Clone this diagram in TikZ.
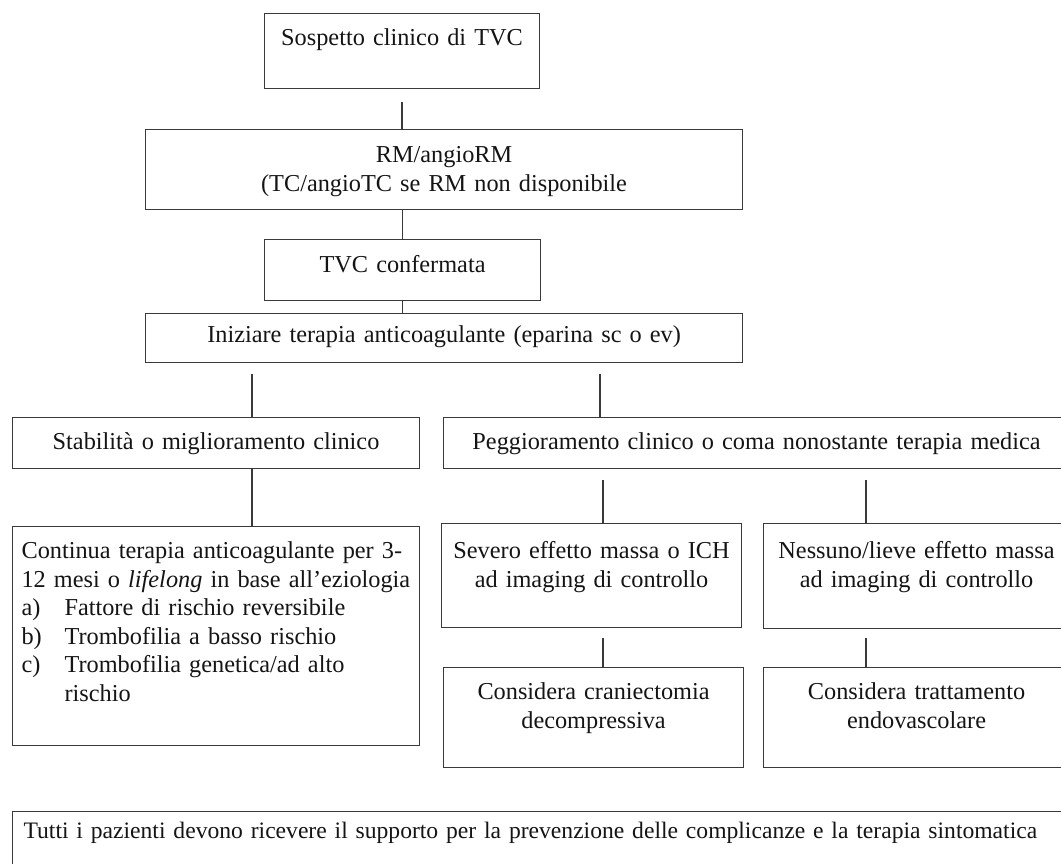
\documentclass[tikz,border=0pt]{standalone}
\usepackage{fontspec}
\setmainfont{Liberation Serif}
\definecolor{linec}{HTML}{3A3A3A}
\definecolor{textc}{HTML}{141414}
\tikzset{
  box/.style={draw=linec, line width=1.1pt, inner sep=0pt, anchor=north west,
    align=center, text=textc, font=\fontsize{24.3}{28.5}\selectfont},
  lbox/.style={box, align=left},
  conn/.style={draw=linec, line width=1.1pt}
}
\begin{document}
\begin{tikzpicture}[x=1pt,y=-1pt]
\useasboundingbox (0,0) rectangle (1061,863);
\clip (0,0) rectangle (1061,863);
% central column
\node[box, text width=275pt, text height=32pt, text depth=43pt] (sosp) at (264,13) {Sospetto clinico di TVC};
\node[box, text width=597pt, text height=33pt, text depth=47pt] (rm) at (145,129) {RM/angioRM\\(TC/angioTC se RM non disponibile};
\node[box, text width=276pt, text height=33pt, text depth=28pt] (tvc) at (264,239) {TVC confermata};
\node[box, text width=597pt, text height=29pt, text depth=20pt] (iniz) at (145,313) {Iniziare terapia anticoagulante (eparina sc o ev)};
% second level
\node[box, text width=407pt, text height=32pt, text depth=19pt] (stab) at (12,417) {Stabilità o miglioramento clinico};
\node[box, text width=626pt, text height=32pt, text depth=19pt] (pegg) at (443,417) {Peggioramento clinico o coma nonostante terapia medica};
% left branch
\node[lbox, inner xsep=9pt, text width=389pt, text height=32pt, text depth=187pt] (cont) at (12,526)
  {\mbox{Continua terapia anticoagulante per 3-}\\
   \mbox{12 mesi o \textit{lifelong} in base all’eziologia}\\
   \makebox[43pt][l]{a)}Fattore di rischio reversibile\\
   \makebox[43pt][l]{b)}Trombofilia a basso rischio\\
   \makebox[43pt][l]{c)}Trombofilia genetica/ad alto\\
   \hspace*{43pt}rischio};
% right branch
\node[box, text width=300pt, text height=35pt, text depth=69pt] (sev) at (441,523) {Severo effetto massa o ICH\\ad imaging di controllo};
\node[box, text width=306pt, text height=35pt, text depth=70pt] (ness) at (763,523) {Nessuno/lieve effetto massa\\ad imaging di controllo};
\node[box, text width=300pt, text height=32pt, text depth=68pt] (crani) at (443,667) {Considera craniectomia\\decompressiva};
\node[box, text width=306pt, text height=32pt, text depth=68pt] (endo) at (763,667) {Considera trattamento\\endovascolare};
% bottom
\node[lbox, inner xsep=11pt, text width=1046pt, text height=27pt, text depth=40pt,
      font=\fontsize{23.6}{28.5}\selectfont] (bot) at (12,811)
  {\mbox{Tutti i pazienti devono ricevere il supporto per la prevenzione delle complicanze e la terapia sintomatica}};
% connectors
\coordinate (a1) at (402,102);
\draw[conn] (a1) -- (a1 |- rm.north);
\draw[conn] (tvc.north) -- (tvc.north |- rm.south);
\draw[conn] (tvc.south) -- (tvc.south |- iniz.north);
\coordinate (a2) at (252,374);
\draw[conn] (a2) -- (a2 |- stab.north);
\coordinate (a3) at (600,374);
\draw[conn] (a3) -- (a3 |- pegg.north);
\draw[conn] (a2 |- stab.south) -- (a2 |- cont.north);
\coordinate (a4) at (603,480);
\draw[conn] (a4) -- (a4 |- sev.north);
\coordinate (a5) at (866,480);
\draw[conn] (a5) -- (a5 |- ness.north);
\coordinate (a6) at (603,638);
\draw[conn] (a6) -- (a6 |- crani.north);
\coordinate (a7) at (866,638);
\draw[conn] (a7) -- (a7 |- endo.north);
\end{tikzpicture}
\end{document}
